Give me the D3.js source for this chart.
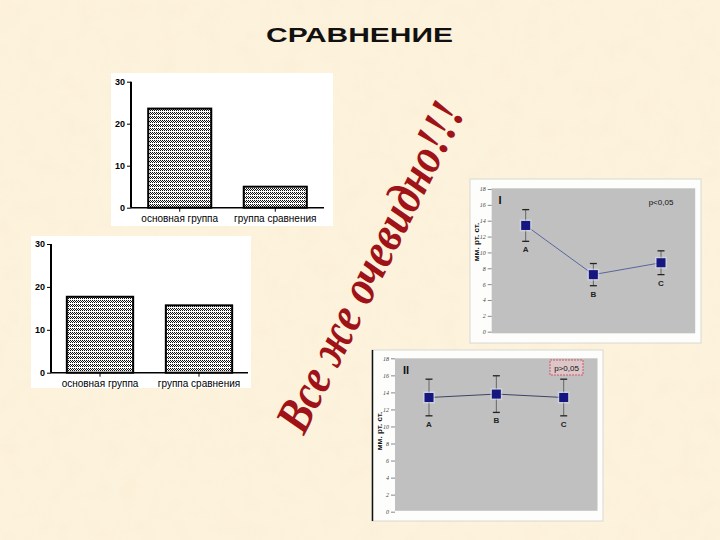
<!DOCTYPE html>
<html><head><meta charset="utf-8">
<script src="https://cdn.jsdelivr.net/npm/d3@7"></script>
<style>html,body{margin:0;padding:0;background:#fbefd7;}svg{display:block;}</style>
</head><body>
<script>
// ---- data ----
const title = "СРАВНЕНИЕ";
const slogan = "Все же очевидно!!!";
const barCategories = ["основная группа", "группа сравнения"];
const barValuesTop = [23.6, 5.0];
const barValuesBottom = [17.7, 15.7];
const barTicks = [0, 10, 20, 30];
const pointCategories = ["A", "B", "C"];
const meansI = [13.4, 7.2, 8.7];
const errorsI = [2.0, 1.4, 1.5];
const meansII = [13.4, 13.8, 13.4];
const errorsII = [2.15, 2.15, 2.15];
const lineTicks = [0, 2, 4, 6, 8, 10, 12, 14, 16, 18];
const yTitleLine = "мм. рт. ст.";
const pTextI = "p<0,05";
const pTextII = "p>0,05";
const panelLabels = ["I", "II"];

const W = 720, H = 540;
const svg = d3.select("body").append("svg").attr("width", W).attr("height", H);
const defs = svg.append("defs");

// parchment texture
const f = defs.append("filter").attr("id", "paper").attr("x", 0).attr("y", 0).attr("width", 1).attr("height", 1);
f.append("feTurbulence").attr("type", "fractalNoise").attr("baseFrequency", 0.05).attr("numOctaves", 3).attr("seed", 4);
f.append("feColorMatrix").attr("type", "matrix")
  .attr("values", "0 0 0 0 0.88  0 0 0 0 0.76  0 0 0 0 0.55  0 0 0 -1.1 0.62");
svg.append("rect").attr("width", W).attr("height", H).attr("fill", "#fdf2dc");
svg.append("rect").attr("width", W).attr("height", H).attr("filter", "url(#paper)").attr("opacity", 0.28);

// bar hatch pattern
const pat = defs.append("pattern").attr("id", "dots").attr("patternUnits", "userSpaceOnUse")
  .attr("width", 2).attr("height", 4);
pat.append("rect").attr("width", 2).attr("height", 4).attr("fill", "#fff");
[[0,0],[1,1],[0,2]].forEach(([x,y]) => pat.append("rect").attr("x", x).attr("y", y).attr("width", 1).attr("height", 1).attr("fill", "#111"));

// title
svg.append("text").attr("x", 266).attr("y", 42).text(title)
  .attr("font-family", "Liberation Sans, Arial, sans-serif").attr("font-weight", "bold")
  .attr("font-size", 20).attr("textLength", 187).attr("lengthAdjust", "spacingAndGlyphs").attr("fill", "#111");

function barChart(cfg, values) {
  const g = svg.append("g");
  g.append("rect").attr("x", cfg.px).attr("y", cfg.py).attr("width", cfg.pw).attr("height", cfg.ph).attr("fill", "#fff");
  const y = d3.scaleLinear().domain([0, 30]).range([cfg.y0, cfg.y30]);
  const x = d3.scaleBand().domain(barCategories).range([cfg.ax, cfg.ax2]).paddingInner(cfg.pi).paddingOuter(cfg.po);
  g.selectAll("rect.bar").data(values).join("rect").attr("class", "bar")
    .attr("x", (d, i) => x(barCategories[i])).attr("width", x.bandwidth())
    .attr("y", d => y(d)).attr("height", d => y(0) - y(d))
    .attr("fill", "url(#dots)").attr("stroke", "#000").attr("stroke-width", 2);
  const ya = g.append("g").attr("transform", `translate(${cfg.ax},0)`)
    .call(d3.axisLeft(y).tickValues(barTicks).tickSize(4).tickPadding(2).tickFormat(d3.format("d")));
  ya.select(".domain").attr("stroke-width", 2).attr("d", `M0,${y(30)}V${y(0)}`);
  ya.selectAll("text").attr("font-family", "Liberation Sans, Arial, sans-serif").attr("font-size", 9).attr("font-weight", "bold").attr("fill", "#000");
  const xa = g.append("g").attr("transform", `translate(0,${cfg.y0})`)
    .call(d3.axisBottom(x).tickSize(4).tickPadding(3));
  xa.select(".domain").attr("stroke-width", 1.5).attr("d", `M${cfg.ax},0H${cfg.ax2}`);
  xa.selectAll("text").attr("font-family", "Liberation Sans, Arial, sans-serif").attr("font-size", 10).attr("fill", "#000");
}

barChart({px: 111, py: 73, pw: 222, ph: 153, ax: 131, ax2: 324, y0: 207.7, y30: 81.7, pi: 0.34, po: 0.18}, barValuesTop);
barChart({px: 31, py: 236, pw: 220, ph: 152, ax: 51, ax2: 248, y0: 372.7, y30: 244, pi: 0.33, po: 0.16}, barValuesBottom);

function lineChart(cfg, means, errs, label, pText) {
  const g = svg.append("g");
  g.append("rect").attr("x", cfg.fx).attr("y", cfg.fy).attr("width", cfg.fw).attr("height", cfg.fh)
    .attr("fill", "#fdfdfb").attr("stroke", "#d8d8d4");
  if (cfg.leftLine) g.append("line").attr("x1", cfg.fx + 0.5).attr("x2", cfg.fx + 0.5).attr("y1", cfg.fy).attr("y2", cfg.fy + cfg.fh).attr("stroke", "#111").attr("stroke-width", 1.5);
  g.append("rect").attr("x", cfg.gx).attr("y", cfg.gy).attr("width", cfg.gw).attr("height", cfg.gh).attr("fill", "#c0c0c0");
  const y = d3.scaleLinear().domain([0, 18]).range([cfg.y0, cfg.y18]);
  const x = d3.scalePoint().domain(pointCategories).range(cfg.xr);
  const ya = g.append("g").attr("transform", `translate(${cfg.gx},0)`)
    .call(d3.axisLeft(y).tickValues(lineTicks).tickSize(4).tickPadding(2));
  ya.select(".domain").remove();
  ya.selectAll("line").attr("stroke", "#888");
  ya.selectAll("text").attr("font-family", "Liberation Serif, serif").attr("font-style", "italic").attr("font-size", 6).attr("fill", "#444");
  g.append("text").attr("transform", `translate(${cfg.tx},${cfg.ty}) rotate(-90)`).attr("text-anchor", "middle")
    .attr("font-family", "Liberation Sans, Arial, sans-serif").attr("font-weight", "bold").attr("font-size", 8).attr("fill", "#111").text(yTitleLine);
  const line = d3.line().x((d, i) => x(pointCategories[i])).y(d => y(d));
  g.append("path").attr("d", line(means)).attr("fill", "none").attr("stroke", cfg.lineColor).attr("stroke-width", 1);
  means.forEach((m, i) => {
    const cx = x(pointCategories[i]);
    g.append("line").attr("x1", cx).attr("x2", cx).attr("y1", y(m + errs[i])).attr("y2", y(m - errs[i])).attr("stroke", "#666").attr("stroke-width", 1);
    [m + errs[i], m - errs[i]].forEach(v => g.append("line").attr("x1", cx - 3.5).attr("x2", cx + 3.5).attr("y1", y(v)).attr("y2", y(v)).attr("stroke", "#222").attr("stroke-width", 1.3));
    g.append("rect").attr("x", cx - 6).attr("y", y(m) - 6).attr("width", 12).attr("height", 12).attr("fill", "#d6dcea").attr("opacity", 0.6);
    g.append("rect").attr("x", cx - 4.5).attr("y", y(m) - 4.5).attr("width", 9).attr("height", 9).attr("fill", "#161680");
    g.append("text").attr("x", cx).attr("y", y(m - errs[i]) + 11).attr("text-anchor", "middle")
      .attr("font-family", "Liberation Sans, Arial, sans-serif").attr("font-weight", "bold").attr("font-size", 8).attr("fill", "#222").text(pointCategories[i]);
  });
  g.append("text").attr("x", cfg.lx).attr("y", cfg.ly).attr("text-anchor", "middle")
    .attr("font-family", "Liberation Sans, Arial, sans-serif").attr("font-weight", "bold").attr("font-size", 11).attr("fill", "#111").text(label);
  if (cfg.pBox) g.append("rect").attr("x", cfg.pBox[0]).attr("y", cfg.pBox[1]).attr("width", cfg.pBox[2]).attr("height", cfg.pBox[3])
    .attr("fill", "#dcc6c8").attr("stroke", "#d05868").attr("stroke-dasharray", "2,1");
  g.append("text").attr("x", cfg.px).attr("y", cfg.py).attr("text-anchor", "middle")
    .attr("font-family", "Liberation Sans, Arial, sans-serif").attr("font-size", 8).attr("fill", "#111").text(pText);
}

lineChart({fx: 470, fy: 179, fw: 231, fh: 164, gx: 491.7, gy: 188.3, gw: 203.5, gh: 145,
  y0: 331.7, y18: 189, xr: [525.7, 661], tx: 479, ty: 242, lineColor: "#5866a0",
  lx: 500, ly: 204, px: 661, py: 205, leftLine: false}, meansI, errorsI, panelLabels[0], pTextI);
lineChart({fx: 372, fy: 350, fw: 231, fh: 171, gx: 395, gy: 358.3, gw: 202.5, gh: 152.5,
  y0: 511.7, y18: 358.3, xr: [429, 563.7], tx: 382, ty: 431, lineColor: "#3c4468",
  lx: 406, ly: 374, px: 566.5, py: 370.5, leftLine: true, pBox: [550, 360, 33, 15]}, meansII, errorsII, panelLabels[1], pTextII);

// diagonal slogan
svg.append("text").attr("transform", "translate(304,436) rotate(-63.5)")
  .attr("font-family", "Liberation Serif, 'Times New Roman', serif").attr("font-weight", "bold").attr("font-style", "italic")
  .attr("font-size", 50).attr("textLength", 362).attr("lengthAdjust", "spacingAndGlyphs")
  .attr("fill", "#9e1218").text(slogan);
</script>
</body></html>
